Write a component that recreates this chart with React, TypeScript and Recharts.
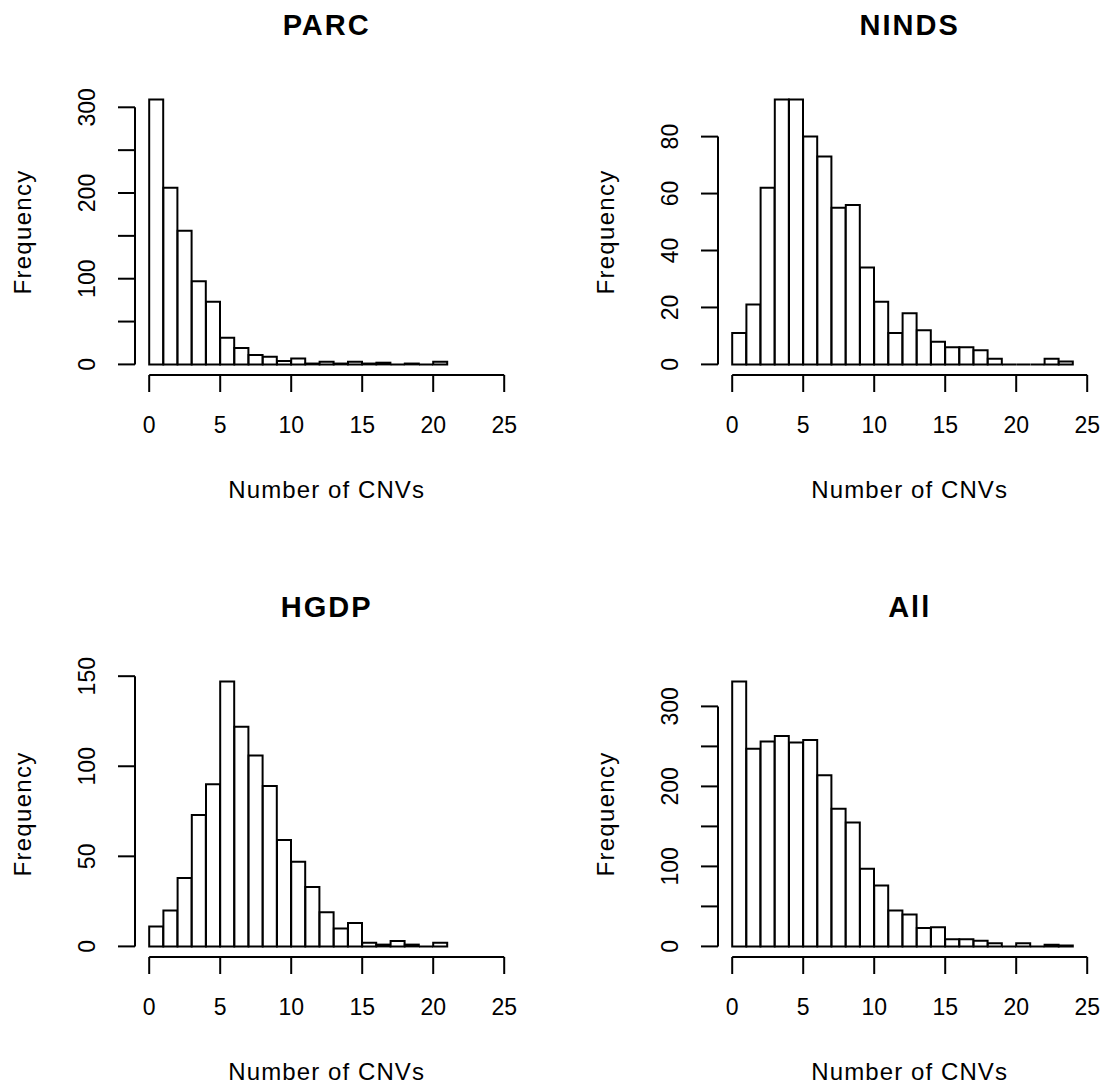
import React from "react";
import { Bar, BarChart, ReferenceLine, XAxis, YAxis } from "recharts";

// counts per bin of width 1 (bin i covers i..i+1)
const parcCounts = [309, 206, 156, 97, 73, 31, 19, 11, 9, 4, 7, 1, 3, 1, 3, 1, 2, 0, 1, 0, 3];
const nindsCounts = [11, 21, 62, 93, 93, 80, 73, 55, 56, 34, 22, 11, 18, 12, 8, 6, 6, 5, 2, 0, 0, 0, 2, 1];
const hgdpCounts = [11, 20, 38, 73, 90, 147, 122, 106, 89, 59, 47, 33, 19, 10, 13, 2, 1, 3, 1, 0, 2];
const allCounts = [331, 247, 256, 263, 255, 258, 214, 172, 155, 97, 76, 45, 40, 23, 24, 9, 9, 7, 4, 0, 4, 0, 2, 1];

const xTicks = [0, 5, 10, 15, 20, 25];
const parcYTicks = [0, 50, 100, 150, 200, 250, 300];
const parcYLabels = [0, 100, 200, 300];
const nindsYTicks = [0, 20, 40, 60, 80];
const hgdpYTicks = [0, 50, 100, 150];
const allYTicks = [0, 50, 100, 150, 200, 250, 300];
const allYLabels = [0, 100, 200, 300];

const FONT = '"Liberation Sans", Arial, Helvetica, sans-serif';
const W = 540;
const H = 540;
const PLOT_LEFT = 135;
const PLOT_RIGHT = 518.4;
const PLOT_TOP = 89;
const PLOT_BOTTOM = 375;
const CX = (PLOT_LEFT + PLOT_RIGHT) / 2;

// path instead of rect so that empty bins still show as a flat line, like R's hist()
const HistRect = (props: any) => {
  const { x, y, width, height } = props;
  const h = Math.max(height || 0, 0);
  const d = `M${x},${y + h}L${x},${y}L${x + width},${y}L${x + width},${y + h}Z`;
  return <path d={d} fill="#fff" stroke="#000" strokeWidth={2} />;
};

const XTick = (props: any) => {
  const { x, y, payload } = props;
  return (
    <text x={x} y={y + 41} textAnchor="middle" fontFamily={FONT} fontSize={23} fill="#000">
      {payload.value}
    </text>
  );
};

function Histogram({ title, counts, yTicks, yLabels, left, top }: {
  title: string; counts: number[]; yTicks: number[]; yLabels: number[]; left: number; top: number;
}) {
  const data = counts.map((c, i) => ({ mid: i + 0.5, count: c }));
  const ymax = Math.max(...counts);
  const pad = ymax * 0.04;
  const yTop = yTicks[yTicks.length - 1];

  const YTick = (props: any) => {
    const { x, y, payload } = props;
    if (!yLabels.includes(payload.value)) return <g />;
    const bx = x - 23;
    return (
      <text x={bx} y={y} transform={`rotate(-90, ${bx}, ${y})`} textAnchor="middle" fontFamily={FONT} fontSize={23} fill="#000">
        {payload.value}
      </text>
    );
  };

  return (
    <div style={{ position: "absolute", left, top, width: W, height: H }}>
      <BarChart
        width={W}
        height={H}
        data={data}
        margin={{ top: PLOT_TOP, left: PLOT_LEFT - 60, right: W - PLOT_RIGHT, bottom: H - PLOT_BOTTOM - 60 }}
        barCategoryGap={0}
        barGap={0}
      >
        <XAxis
          type="number"
          dataKey="mid"
          domain={[-1, 26]}
          ticks={xTicks}
          interval={0}
          allowDataOverflow
          axisLine={false}
          stroke="#000"
          tickLine={{ stroke: "#000", strokeWidth: 2 }}
          tickSize={17}
          tickMargin={0}
          height={60}
          tick={<XTick />}
        />
        <YAxis
          type="number"
          domain={[-pad, ymax + pad]}
          ticks={yTicks}
          interval={0}
          allowDataOverflow
          axisLine={false}
          stroke="#000"
          tickLine={{ stroke: "#000", strokeWidth: 2 }}
          tickSize={17}
          tickMargin={0}
          width={60}
          tick={<YTick />}
        />
        <ReferenceLine segment={[{ x: 0, y: -pad }, { x: 25, y: -pad }]} stroke="#000" strokeWidth={2} ifOverflow="visible" />
        <ReferenceLine segment={[{ x: -1, y: 0 }, { x: -1, y: yTop }]} stroke="#000" strokeWidth={2} ifOverflow="visible" />
        <Bar dataKey="count" isAnimationActive={false} shape={HistRect} />
      </BarChart>
      <svg width={W} height={H} style={{ position: "absolute", left: 0, top: 0, pointerEvents: "none" }}>
        <text x={CX} y={35} textAnchor="middle" fontFamily={FONT} fontWeight="bold" fontSize={29} letterSpacing={2} fill="#000">
          {title}
        </text>
        <text x={CX} y={498} textAnchor="middle" fontFamily={FONT} fontSize={24} letterSpacing={1.1} fill="#000">
          Number of CNVs
        </text>
        <text x={31} y={232} transform="rotate(-90, 31, 232)" textAnchor="middle" fontFamily={FONT} fontSize={24} letterSpacing={1.3} fill="#000">
          Frequency
        </text>
      </svg>
    </div>
  );
}

export default function App() {
  return (
    <div style={{ position: "absolute", left: 0, top: 0, width: 1107, height: 1085, overflow: "hidden", background: "#fff" }}>
      <Histogram title="PARC" counts={parcCounts} yTicks={parcYTicks} yLabels={parcYLabels} left={0} top={0} />
      <Histogram title="NINDS" counts={nindsCounts} yTicks={nindsYTicks} yLabels={nindsYTicks} left={583} top={0} />
      <Histogram title="HGDP" counts={hgdpCounts} yTicks={hgdpYTicks} yLabels={hgdpYTicks} left={0} top={582} />
      <Histogram title="All" counts={allCounts} yTicks={allYTicks} yLabels={allYLabels} left={583} top={582} />
    </div>
  );
}
